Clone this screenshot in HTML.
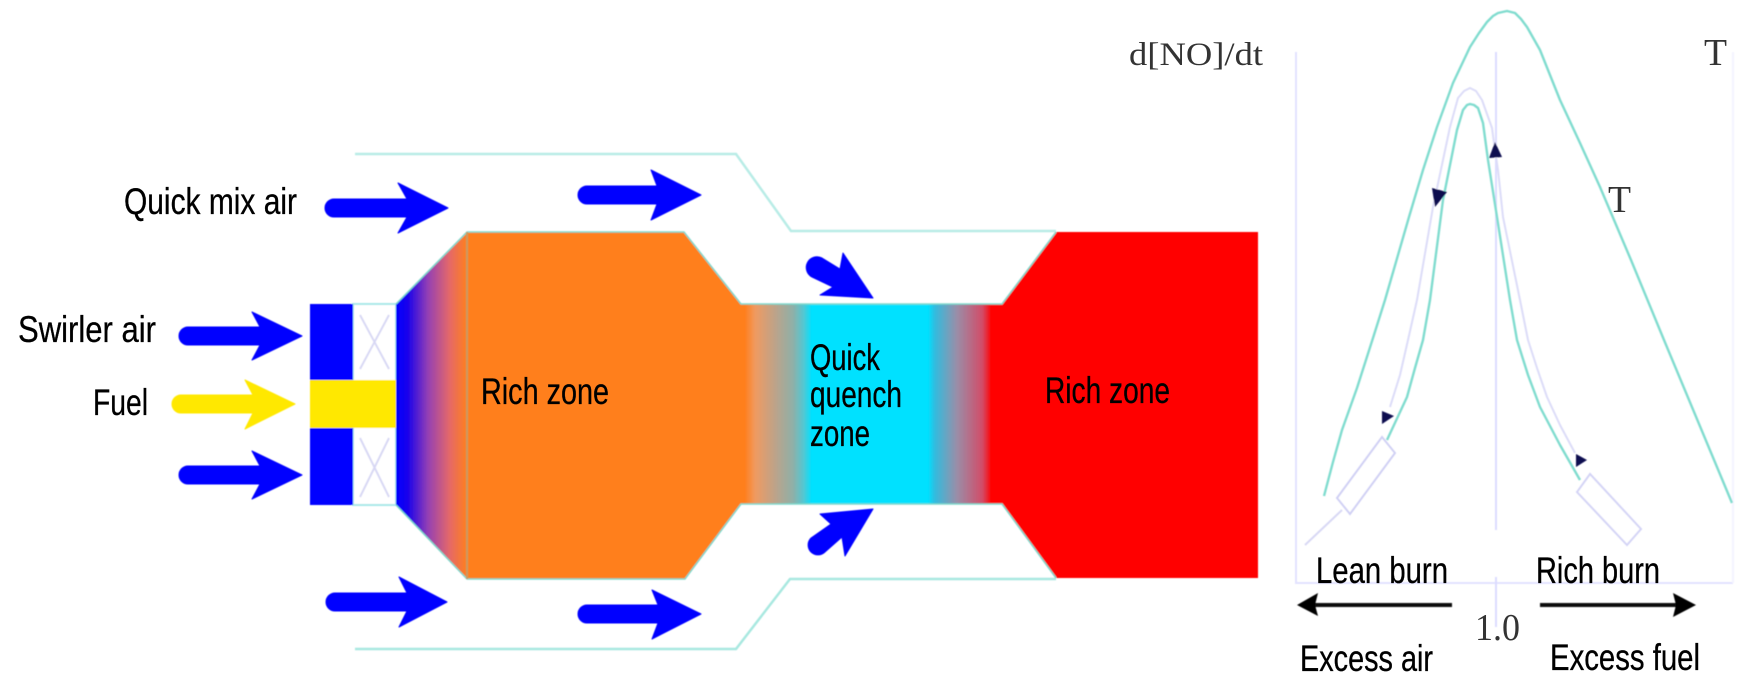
<!DOCTYPE html>
<html><head><meta charset="utf-8"><style>
html,body{margin:0;padding:0;background:#fff}
svg{display:block}
.s{font-family:"Liberation Sans Narrow","Liberation Sans",sans-serif;font-size:37px;fill:#000;stroke:#000;stroke-width:.3px}
.r{font-family:"Liberation Serif",serif;fill:#333}
</style></head><body>
<svg width="1752" height="685" viewBox="0 0 1752 685" xmlns="http://www.w3.org/2000/svg">
<defs>
<linearGradient id="g1" gradientUnits="userSpaceOnUse" x1="396" y1="0" x2="467" y2="0">
<stop offset="0" stop-color="#0000ff"/><stop offset=".16" stop-color="#1800ec"/><stop offset=".45" stop-color="#9440b4"/><stop offset=".75" stop-color="#e4686a"/><stop offset="1" stop-color="#ff7f1e"/></linearGradient>
<linearGradient id="g2" gradientUnits="userSpaceOnUse" x1="745" y1="0" x2="812" y2="0">
<stop offset="0" stop-color="#ff7f1e"/><stop offset=".15" stop-color="#f09a60"/><stop offset=".45" stop-color="#bda38a"/><stop offset=".72" stop-color="#8eb0a8"/><stop offset=".88" stop-color="#50c8d4"/><stop offset="1" stop-color="#00e1ff"/></linearGradient>
<linearGradient id="g3" gradientUnits="userSpaceOnUse" x1="928" y1="0" x2="992" y2="0">
<stop offset="0" stop-color="#00e1ff"/><stop offset=".1" stop-color="#30bde0"/><stop offset=".45" stop-color="#9a8ea8"/><stop offset=".85" stop-color="#d24c68"/><stop offset="1" stop-color="#ff0000"/></linearGradient>
<filter id="b" x="-2%" y="-2%" width="104%" height="104%"><feGaussianBlur stdDeviation="0.6"/></filter>
</defs>
<rect width="1752" height="685" fill="#fff"/>
<g filter="url(#b)">
<!-- ducts -->
<path d="M355 154H736L791 231H1056" fill="none" stroke="#b8ece6" stroke-width="2.5"/>
<path d="M355 649H736L790 579H1056" fill="none" stroke="#a8e8e0" stroke-width="2.5"/>
<!-- swirler -->
<rect x="353" y="304" width="43" height="201" fill="#fff" stroke="#a8e8e8" stroke-width="2"/>
<path d="M360 315L389 369M389 315L360 369M360 438L389 497M389 438L360 497" stroke="#d8d8f4" stroke-width="2" fill="none"/>
<rect x="310" y="304" width="43" height="76" fill="#0000ff"/>
<rect x="310" y="428" width="43" height="77" fill="#0000ff"/>
<rect x="310" y="380" width="86" height="48" fill="#ffe800"/>
<!-- zones -->
<polygon points="396,304 467,232 467,579 396,505" fill="url(#g1)"/>
<polygon points="467,232 684,232 741,304 746,304 746,504 741,504 685,579 467,579" fill="#ff7f1e"/>
<rect x="745" y="304" width="67" height="200" fill="url(#g2)"/>
<rect x="811" y="304" width="118" height="200" fill="#00e1ff"/>
<rect x="928" y="304" width="64" height="200" fill="url(#g3)"/>
<polygon points="1056,232 1258,232 1258,578 1056,578 1002,504 990,504 990,304 1002,304" fill="#ff0000"/>
<path d="M396 304L467 232H684L741 304H1002L1056 232M396 505L467 579H685L741 504H1002L1056 578" fill="none" stroke="#7fd8cc" stroke-width="1.5"/>
<path d="M467 232V579" stroke="#c89a60" stroke-width="2" fill="none"/>
<!-- blue arrows -->
<g fill="#0000ff" stroke="#0000ff" stroke-width="1" stroke-linejoin="round">
<path d="M334 199H407L398 183L448 208L398 233L407 217H334A9 9 0 0 1 334 199Z"/>
<path d="M587 186H657L651 170L701 195L651 220L657 204H587A9 9 0 0 1 587 186Z"/>
<path d="M188 327H260L252 312L302 336L252 360L260 345H188A9 9 0 0 1 188 327Z"/>
<path d="M188 466H260L252 451L302 475L252 499L260 484H188A9 9 0 0 1 188 466Z"/>
<path d="M335 593H407L399 577L447 602L399 627L407 611H335A9 9 0 0 1 335 593Z"/>
<path d="M587 605H658L652 590L701 614L652 639L658 623H587A9 9 0 0 1 587 605Z"/>
<path d="M843 253L873 298L820 295L833 287L812 277A8.5 8.5 0 0 1 822 258L840 269Z"/>
<path d="M820 514L873 509L845 556L842 537L825 552A8.5 8.5 0 0 1 811 538L831 524Z"/>
</g>
<path d="M181 395H253L245 380L295 404L245 429L253 413H181A9 9 0 0 1 181 395Z" fill="#ffe800" stroke="#ffe800" stroke-linejoin="round"/>
<!-- chart axes -->
<path d="M1296 52V583H1733" fill="none" stroke="#e2e2ff" stroke-width="2"/>
<path d="M1733 52V583" fill="none" stroke="#f4f4ff" stroke-width="2"/>
<path d="M1496 52V530M1496 577V627" fill="none" stroke="#dcdcff" stroke-width="2"/>
<!-- curves -->
<polyline points="1324,496 1333,462 1342,430 1357,388 1373,338 1385,300 1409,217 1423,170 1437,127 1453,83 1470,47 1479,33 1487,22 1493,16 1498,13 1507,11 1515,13 1521,19 1527,27 1540,50 1560,100 1580,143 1600,187 1631,260 1664,340 1732,503" fill="none" stroke="#80dccf" stroke-width="2.4" stroke-linejoin="round"/>
<polyline points="1390,407 1400,375 1408,340 1417,300 1433,207 1443,160 1450,127 1458,98 1464,91 1470,88 1476,91 1482,100 1492,128 1494,143 1498,170 1503,217 1520,300 1528,340 1537,368 1547,397 1560,425 1575,453" fill="none" stroke="#dcdcf8" stroke-width="2" stroke-linejoin="round"/>
<polyline points="1387,440 1407,397 1415,368 1423,340 1430,300 1443,200 1450,165 1457,130 1463,110 1467,105 1470,104 1474,105 1478,108 1483,123 1488,160 1497,217 1510,300 1517,340 1528,375 1540,407 1560,445 1580,480" fill="none" stroke="#80dccf" stroke-width="2.4" stroke-linejoin="round"/>
<!-- injectors -->
<path d="M1382 437L1395 453L1350 514L1337 498Z" fill="#fff" stroke="#d0d0f4" stroke-width="2"/>
<path d="M1342 510L1305 545" stroke="#d8d8f4" stroke-width="2"/>
<path d="M1590 474L1577 492L1627 545L1641 529Z" fill="#fff" stroke="#d4d4f6" stroke-width="2"/>
<!-- dark arrowheads -->
<g fill="#080850">
<polygon points="1432,188 1447,192 1435,207"/>
<polygon points="1495,142 1502,157 1489,158"/>
<polygon points="1382,411 1394,416 1382,424"/>
<polygon points="1576,454 1587,460 1576,467"/>
</g>
<!-- black arrows -->
<path d="M1452 605H1315" stroke="#111" stroke-width="4"/>
<polygon points="1297,605 1318,593 1315,605 1318,616" fill="#000"/>
<path d="M1540 605H1676" stroke="#111" stroke-width="4"/>
<polygon points="1696,605 1673,593 1676,605 1673,617" fill="#000"/>
</g>
<!-- labels -->
<text class="s" x="124" y="214" textLength="173" lengthAdjust="spacingAndGlyphs">Quick mix air</text>
<text class="s" x="18" y="342" textLength="138" lengthAdjust="spacingAndGlyphs">Swirler air</text>
<text class="s" x="93" y="415" textLength="55" lengthAdjust="spacingAndGlyphs">Fuel</text>
<text class="s" x="481" y="404" textLength="128" lengthAdjust="spacingAndGlyphs">Rich zone</text>
<text class="s" x="810" y="370" textLength="70" lengthAdjust="spacingAndGlyphs">Quick</text>
<text class="s" x="810" y="407" textLength="92" lengthAdjust="spacingAndGlyphs">quench</text>
<text class="s" x="810" y="446" textLength="60" lengthAdjust="spacingAndGlyphs">zone</text>
<text class="s" x="1045" y="403" textLength="125" lengthAdjust="spacingAndGlyphs">Rich zone</text>
<text class="s" x="1316" y="583" textLength="132" lengthAdjust="spacingAndGlyphs">Lean burn</text>
<text class="s" x="1536" y="583" textLength="124" lengthAdjust="spacingAndGlyphs">Rich burn</text>
<text class="s" x="1300" y="671" textLength="133" lengthAdjust="spacingAndGlyphs">Excess air</text>
<text class="s" x="1550" y="670" textLength="150" lengthAdjust="spacingAndGlyphs">Excess fuel</text>
<text class="r" x="1129" y="65" font-size="33" textLength="134" lengthAdjust="spacingAndGlyphs">d[NO]/dt</text>
<text class="r" x="1704" y="65" font-size="38" textLength="23" lengthAdjust="spacingAndGlyphs">T</text>
<text class="r" x="1608" y="212" font-size="38" textLength="23" lengthAdjust="spacingAndGlyphs">T</text>
<text class="r" x="1475" y="640" font-size="38" textLength="45" lengthAdjust="spacingAndGlyphs">1.0</text>
</svg>
</body></html>
